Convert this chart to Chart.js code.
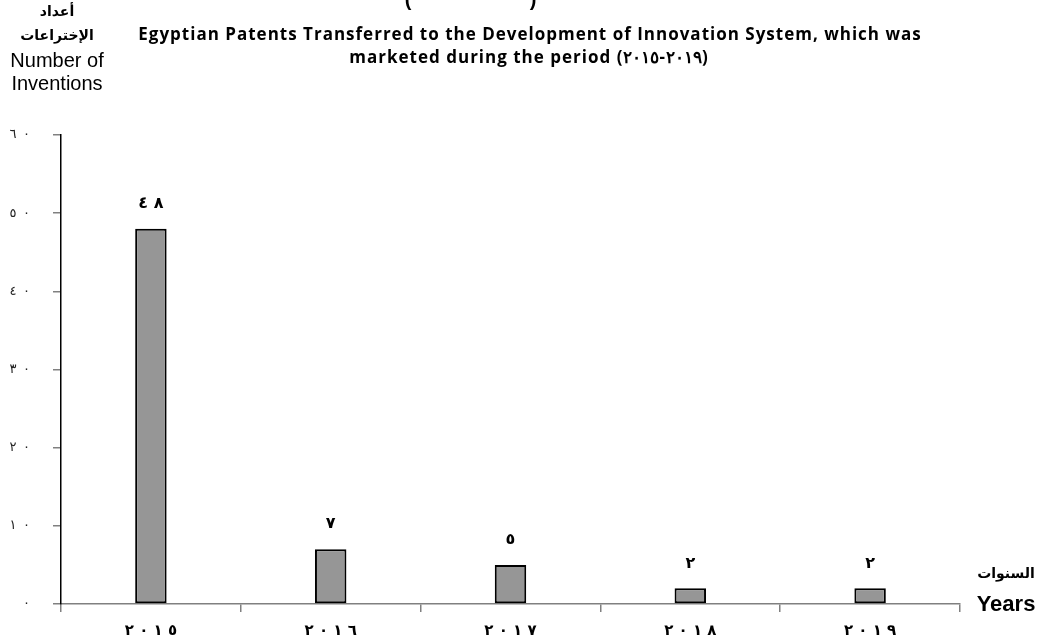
<!DOCTYPE html>
<html>
<head>
<meta charset="utf-8">
<script src="https://cdn.jsdelivr.net/npm/chart.js@4/dist/chart.umd.min.js"></script>
<style>
  html, body { margin: 0; padding: 0; background: #fff; }
</style>
</head>
<body>
<canvas id="chart" width="1044" height="642"></canvas>
<script>
// dados do gráfico
const years = [2015, 2016, 2017, 2018, 2019];
const inventions = [48, 7, 5, 2, 2];
const yMax = 60;
const yStep = 10;

// algarismos arábicos orientais
function toArabic(n) {
    return String(n).replace(/[0-9]/g, d => '٠١٢٣٤٥٦٧٨٩'[d]);
}

// algarismos separados (LRM mantém a ordem da esquerda para a direita)
function spaced(n, sep) {
    return toArabic(n).split('').join('\u200E' + sep + '\u200E');
}

// textos fora da área do gráfico (títulos, eixos)
const textPlugin = {
    id: 'textPlugin',
    afterDraw(chart) {
        const ctx = chart.ctx;
        ctx.save();
        ctx.fillStyle = '#000';
        ctx.textAlign = 'center';
        ctx.textBaseline = 'middle';

        // valores acima das barras
        const meta = chart.getDatasetMeta(0);
        ctx.font = 'bold 16px "DejaVu Sans"';
        meta.data.forEach((bar, i) => {
            ctx.fillText(spaced(inventions[i], ' '), bar.x, bar.y - 25);
        });

        // parênteses cortados no topo
        ctx.font = 'bold 20px "Liberation Sans"';
        ctx.fillText('(', 408, 0);
        ctx.fillText(')', 533, 0);

        // título
        ctx.letterSpacing = '1px';
        ctx.font = 'bold 17px "Open Sans"';
        ctx.fillText('Egyptian Patents Transferred to the Development of Innovation System, which was', 530, 35);
        ctx.fillText('marketed during the period (' + toArabic(2015) + '\u200E-\u200E' + toArabic(2019) + ')', 529, 58);
        ctx.letterSpacing = '0px';

        // título do eixo Y
        ctx.font = 'bold 14px "DejaVu Sans"';
        ctx.fillText('أعداد', 57, 12);
        ctx.fillText('الإختراعات', 57, 36);
        ctx.font = '20px "Liberation Sans"';
        ctx.fillText('Number of', 57, 61);
        ctx.fillText('Inventions', 57, 84);

        // título do eixo X
        ctx.font = 'bold 14px "DejaVu Sans"';
        ctx.fillText('السنوات', 1006, 574);
        ctx.font = 'bold 22px "Liberation Sans"';
        ctx.fillText('Years', 1006, 605);
        ctx.restore();
    }
};

const ctx = document.getElementById('chart').getContext('2d');
const chart = new Chart(ctx, {
    type: 'bar',
    data: {
        labels: years.map(y => spaced(y, ' ')),
        datasets: [{
            data: inventions,
            backgroundColor: '#969696',
            borderColor: '#000',
            borderWidth: 2,
            borderSkipped: false,
            categoryPercentage: 1,
            barPercentage: 0.175
        }]
    },
    options: {
        responsive: false,
        devicePixelRatio: 1,
        animation: false,
        layout: { padding: { top: 135, right: 84, left: 0, bottom: 0 } },
        plugins: {
            legend: { display: false },
            tooltip: { enabled: false }
        },
        scales: {
            x: {
                grid: { drawOnChartArea: false, offset: true, tickLength: 8, color: '#808080', lineWidth: 1.5 },
                border: { color: '#808080', width: 1.5 },
                ticks: { font: { family: 'DejaVu Sans', size: 15, weight: 'bold' }, color: '#000', padding: 10 },
                afterFit: s => { s.height = 38; }
            },
            y: {
                min: 0,
                max: yMax,
                grid: { drawOnChartArea: false, tickLength: 8, color: '#808080', lineWidth: 1.5 },
                border: { color: '#000', width: 1.5 },
                ticks: {
                    stepSize: yStep,
                    callback: v => spaced(v, '\u2002'),
                    font: { family: 'DejaVu Sans', size: 13 },
                    color: '#222',
                    padding: 23
                },
                afterFit: s => { s.width = 61; }
            }
        }
    },
    plugins: [textPlugin]
});
</script>
</body>
</html>
